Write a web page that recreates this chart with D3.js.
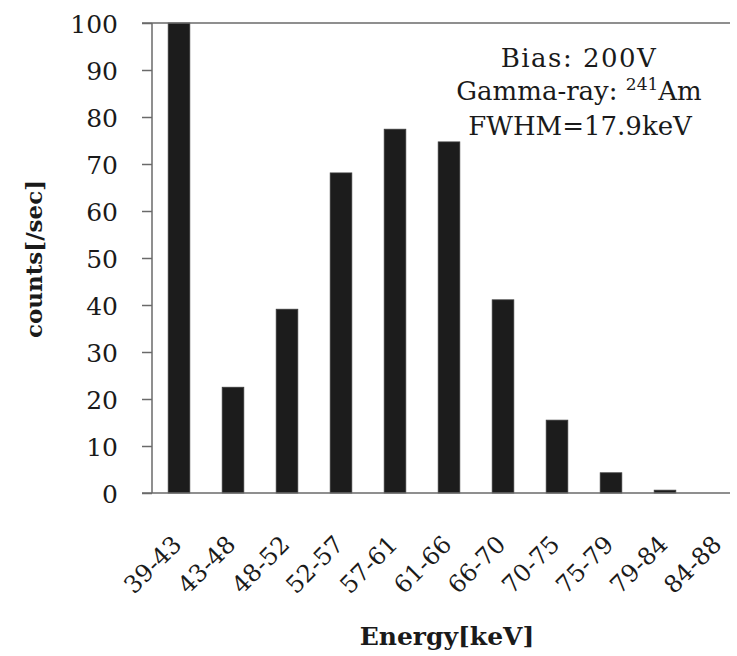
<!DOCTYPE html>
<html>
<head>
<meta charset="utf-8">
<script src="https://cdn.jsdelivr.net/npm/d3@7"></script>
<style>
  html, body { margin: 0; padding: 0; background: #fff; }
  svg { display: block; }
  text { font-family: "DejaVu Serif", "Liberation Serif", serif; fill: #1a1a1a; }
</style>
</head>
<body>
<svg id="chart" width="737" height="656"></svg>
<script>
// Energy bins (keV) and measured count rates
const energyBins = ["39-43", "43-48", "48-52", "52-57", "57-61", "61-66",
                    "66-70", "70-75", "75-79", "79-84", "84-88"];
const countRates = [100, 22.5, 39.1, 68.1, 77.4, 74.7, 41.1, 15.5, 4.3, 0.6, 0];
const yTickValues = [0, 10, 20, 30, 40, 50, 60, 70, 80, 90, 100];
const infoLines = ["Bias: 200V", "Gamma-ray: ", "FWHM=17.9keV"];

const svg = d3.select("#chart");
const plotLeft = 152, plotRight = 746, plotTop = 23, plotBottom = 493;

const x = d3.scaleBand()
  .domain(energyBins)
  .range([plotLeft, plotRight])
  .paddingInner(0.6)
  .paddingOuter(0.3);

const y = d3.scaleLinear().domain([0, 100]).range([plotBottom, plotTop]);

const axisColor = "#6a6a6a";

// bars
svg.append("g")
  .selectAll("rect")
  .data(energyBins.map((b, i) => ({ bin: b, v: countRates[i] })))
  .join("rect")
  .attr("x", d => x(d.bin))
  .attr("width", x.bandwidth())
  .attr("y", d => y(d.v))
  .attr("height", d => y(0) - y(d.v))
  .attr("fill", "#1c1c1c")
  .attr("stroke", "#3a3a3a")
  .attr("stroke-width", 0.8);

// y axis with outward ticks
const yAxis = svg.append("g")
  .attr("transform", `translate(${plotLeft},0)`)
  .call(d3.axisLeft(y).tickValues(yTickValues).tickSize(10).tickSizeOuter(0).tickPadding(24));
yAxis.select(".domain").remove();
yAxis.selectAll(".tick line").attr("stroke", axisColor).attr("stroke-width", 1.5);
yAxis.selectAll(".tick text")
  .attr("font-size", 25)
  .attr("dy", "0.38em")
  .style("font-family", "'DejaVu Serif', serif")
  .attr("fill", "#1a1a1a");

// frame lines: left axis, baseline and top edge
svg.append("line").attr("x1", plotLeft).attr("x2", plotLeft).attr("y1", plotTop).attr("y2", plotBottom)
  .attr("stroke", axisColor).attr("stroke-width", 1.5);
svg.append("line").attr("x1", plotLeft - 10).attr("x2", 730).attr("y1", plotBottom).attr("y2", plotBottom)
  .attr("stroke", axisColor).attr("stroke-width", 1.5);
svg.append("line").attr("x1", plotLeft - 10).attr("x2", 730).attr("y1", plotTop).attr("y2", plotTop)
  .attr("stroke", axisColor).attr("stroke-width", 1.5);

// rotated energy-bin labels
svg.append("g")
  .selectAll("text")
  .data(energyBins)
  .join("text")
  .attr("transform", d => `translate(${x(d) + x.bandwidth() / 2 + 4},${plotBottom + 53}) rotate(-45)`)
  .attr("text-anchor", "end")
  .attr("font-size", 24)
  .text(d => d);

// axis titles
svg.append("text")
  .attr("x", 447).attr("y", 645)
  .attr("text-anchor", "middle")
  .attr("font-size", 25)
  .attr("font-weight", "bold")
  .text("Energy[keV]");

svg.append("text")
  .attr("transform", "translate(42,259) rotate(-90)")
  .attr("text-anchor", "middle")
  .attr("font-size", 23)
  .attr("font-weight", "bold")
  .text("counts[/sec]");

// measurement conditions
const info = svg.append("g").attr("text-anchor", "middle").attr("font-size", 26);
info.append("text").attr("x", 579).attr("y", 67).attr("letter-spacing", 1.5).text(infoLines[0]);
const g2 = info.append("text").attr("x", 579).attr("y", 100);
g2.append("tspan").text(infoLines[1]);
g2.append("tspan").attr("font-size", 17).attr("dy", -10).text("241");
g2.append("tspan").attr("dy", 10).text("Am");
info.append("text").attr("x", 580).attr("y", 135).text(infoLines[2]);
</script>
</body>
</html>
